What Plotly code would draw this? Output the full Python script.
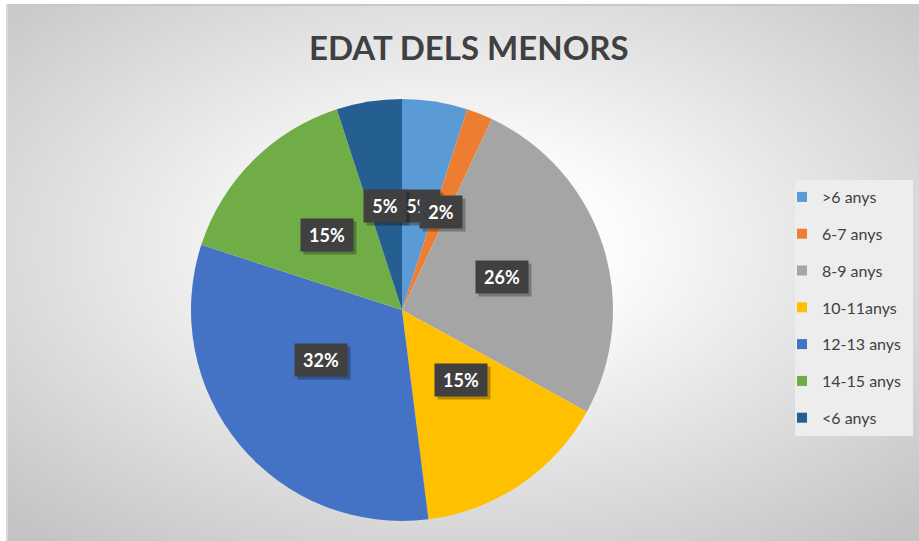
import base64
import math
import plotly.graph_objects as go

# ---- data ----
categories = [">6 anys", "6-7 anys", "8-9 anys", "10-11anys", "12-13 anys", "14-15 anys", "<6 anys"]
values = [5, 2, 26, 15, 32, 15, 5]
colors = ["#5B9BD5", "#ED7D31", "#A5A5A5", "#FFC000", "#4472C4", "#70AD47", "#255E91"]
title_text = "EDAT DELS MENORS"

W, H = 919, 541
FONT = "Lato, 'Open Sans', sans-serif"

# pie geometry (pixels)
cx_px, cy_px, r_px = 402, 310, 211
dom_x = [(cx_px - r_px) / W, (cx_px + r_px) / W]
dom_y = [(H - cy_px - r_px) / H, (H - cy_px + r_px) / H]

fig = go.Figure()
fig.add_trace(go.Pie(
    labels=categories, values=values, sort=False, direction="clockwise",
    rotation=0, marker=dict(colors=colors, line=dict(width=0)),
    textinfo="none", showlegend=False, hoverinfo="label+percent",
    domain=dict(x=dom_x, y=dom_y),
))

# legend via dummy traces so item spacing can match
for i, (c, col) in enumerate(zip(categories, colors)):
    fig.add_trace(go.Scatter(
        x=[None], y=[None], mode="markers", name=c, legendgroup=f"g{i}",
        marker=dict(symbol="square", size=10, color=col), showlegend=True,
    ))

# data labels (computed from values)
total = sum(values)
cum = 0
annotations = []
for v in values:
    mid = (cum + v / 2) / total * 2 * math.pi
    cum += v
    lx = (cx_px + 0.5 * r_px * math.sin(mid)) / W
    ly = (H - cy_px + 0.5 * r_px * math.cos(mid)) / H
    txt = f"{round(v / total * 100)}%"
    bw = 10 * len(txt) + 10
    annotations.append(dict(
        x=lx, y=ly, xref="paper", yref="paper", text=" ", showarrow=False,
        font=dict(family=FONT, size=18, color="rgba(0,0,0,0)"), width=bw, height=20,
        bgcolor="rgba(0,0,0,0.28)", borderpad=6, xshift=3, yshift=-3,
    ))
    annotations.append(dict(
        x=lx, y=ly, xref="paper", yref="paper", text=f"<b>{txt}</b>", showarrow=False,
        font=dict(family=FONT, size=18, color="white"), width=bw, height=20,
        bgcolor="#404040", borderpad=6,
    ))

annotations.append(dict(
    x=469 / W, y=1 - 47 / H, xref="paper", yref="paper", text=f"<b>{title_text}</b>",
    showarrow=False, font=dict(family=FONT, size=33, color="#404040"),
    xanchor="center", yanchor="middle",
))

# radial gradient background
gx0, gy0 = 7, 5
gw, gh = W - gx0, H - gy0
svg = (
    f"<svg xmlns='http://www.w3.org/2000/svg' width='{gw}' height='{gh}'>"
    "<defs><radialGradient id='g' cx='0.5' cy='0.45' r='0.72'>"
    "<stop offset='0' stop-color='#ffffff'/>"
    "<stop offset='0.25' stop-color='#fbfbfb'/>"
    "<stop offset='1' stop-color='#c3c3c3'/>"
    "</radialGradient></defs>"
    f"<rect width='{gw}' height='{gh}' fill='url(#g)'/></svg>"
)
src = "data:image/svg+xml;base64," + base64.b64encode(svg.encode()).decode()

fig.update_layout(
    width=W, height=H,
    margin=dict(l=0, r=0, t=0, b=0),
    paper_bgcolor="white", plot_bgcolor="rgba(0,0,0,0)",
    xaxis=dict(visible=False), yaxis=dict(visible=False),
    showlegend=True,
    legend=dict(
        x=782 / W, y=1 - 180 / H, xanchor="left", yanchor="top",
        bgcolor="rgba(0,0,0,0)", borderwidth=0, tracegroupgap=13,
        font=dict(family=FONT, size=16, color="#404040"),
        itemwidth=30,
    ),
    annotations=annotations,
    images=[dict(
        source=src, xref="paper", yref="paper", x=gx0 / W, y=1 - gy0 / H,
        sizex=gw / W, sizey=gh / H, sizing="stretch", layer="below",
        xanchor="left", yanchor="top",
    )],
    shapes=[dict(
        type="line", xref="paper", yref="paper", x0=gx0 / W, x1=1, y0=1 - gy0 / H, y1=1 - gy0 / H,
        line=dict(color="#c8c8c8", width=2), layer="below",
    ), dict(
        type="line", xref="paper", yref="paper", x0=gx0 / W, x1=gx0 / W, y0=0, y1=1 - gy0 / H,
        line=dict(color="#d8d8d8", width=2), layer="below",
    ), dict(
        type="rect", xref="paper", yref="paper", x0=795 / W, x1=913 / W,
        y0=1 - 436 / H, y1=1 - 180 / H, fillcolor="#ededed", line=dict(width=0),
        layer="below",
    )],
)

fig.write_html(
    "out.html",
    config={"displayModeBar": False},
    post_script="document.body.style.margin='0';document.body.style.overflow='hidden';",
)
